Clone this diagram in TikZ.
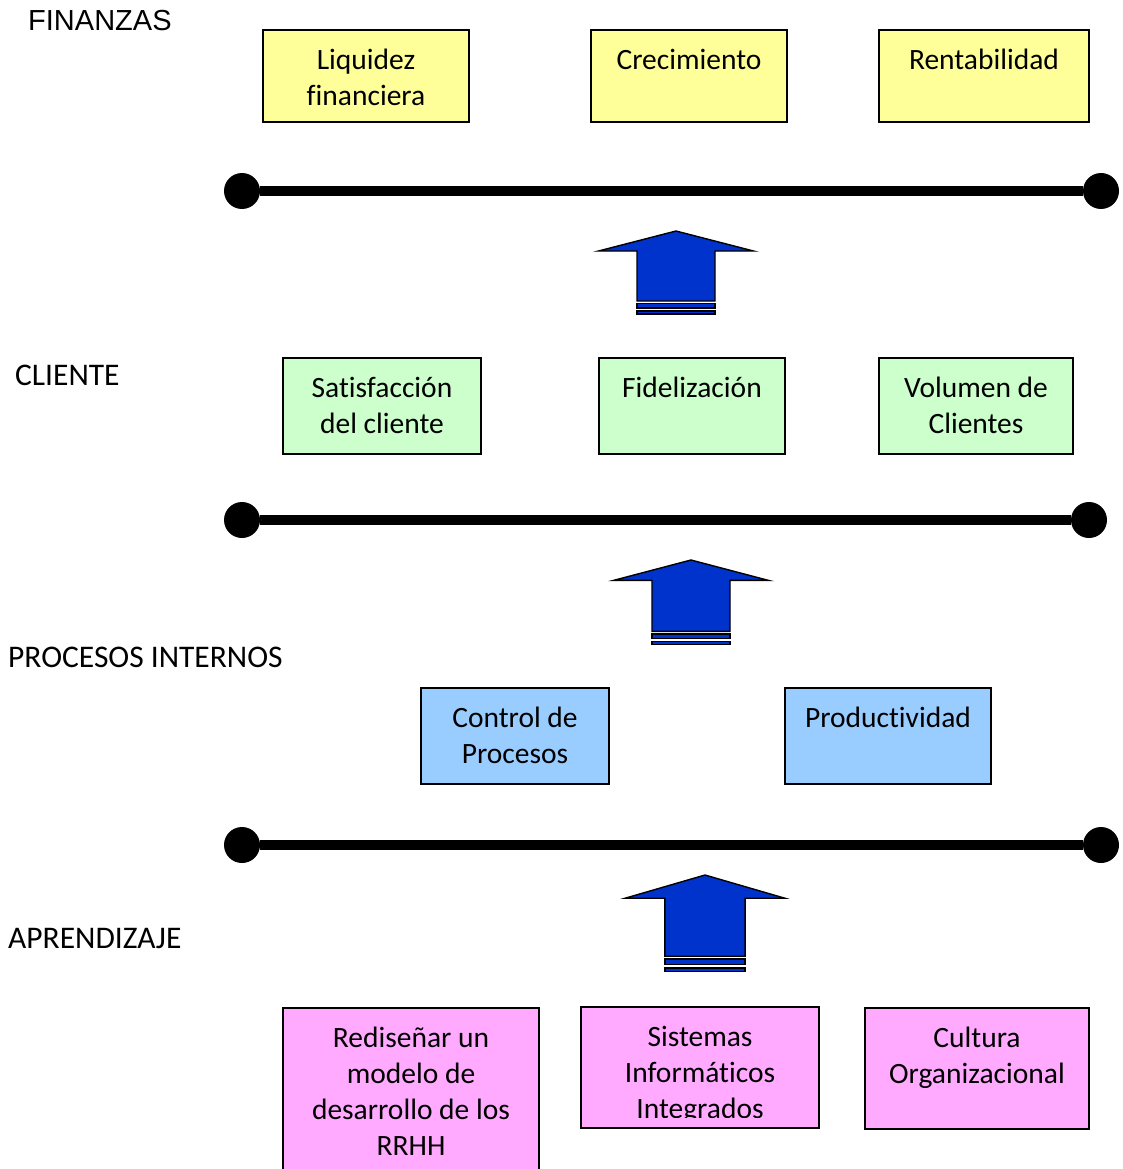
\documentclass[tikz,border=0pt]{standalone}
\usepackage{fontspec}
\setmainfont{Carlito}[Ligatures=NoCommon]
\newfontfamily\headfont{Liberation Sans}
\definecolor{finyellow}{RGB}{255,255,153}
\definecolor{cligreen}{RGB}{204,255,204}
\definecolor{procblue}{RGB}{153,204,255}
\definecolor{learnpink}{RGB}{255,170,255}
\definecolor{arrowblue}{RGB}{0,51,204}
% multi-line box caption whose baseline is that of its first line
\newcommand{\kpilines}[1]{\begin{tabular}[t]{@{}c@{}}#1\end{tabular}}
\begin{document}
\begin{tikzpicture}[x=1pt,y=-1pt,
  kpi/.style={draw=black, line width=1.3pt, inner sep=0pt},
  yel/.style={kpi, fill=finyellow, minimum height=92pt},
  grn/.style={kpi, fill=cligreen, minimum height=96pt},
  blu/.style={kpi, fill=procblue, minimum height=96pt},
  pnk/.style={kpi, fill=learnpink, minimum height=121pt},
  kpitext/.style={anchor=base, inner sep=0pt, font=\fontsize{29.5}{36}\selectfont},
  layer/.style={anchor=base west, inner sep=0pt, font=\fontsize{31.5}{37}\selectfont},
  dot/.style={circle, fill=black, minimum size=36pt, inner sep=0pt},
  bar/.style={line width=10pt},
  arrowline/.style={draw=black, line width=1.4pt, line join=miter, fill=arrowblue},
  uparrow/.pic={
    \path[arrowline] (0,0) -- (77.5,20) -- (39,20) -- (39,70) -- (-39,70)
      -- (-39,20) -- (-77.5,20) -- cycle;
    \path[arrowline] (-39,72.5) rectangle (39,77);
    \path[arrowline] (-39,80) rectangle (39,83);
  }]
\useasboundingbox (0,0) rectangle (1123,1169);
\clip (0,0) rectangle (1123,1169);

% perspective names
\node[layer, font={\headfont\fontsize{29}{34}\selectfont}] (lfin) at (28,31) {FINANZAS};
\node[layer] (lcli) at (15,385) {CLIENTE};
\node[layer] (lpro) at (8,667) {PROCESOS INTERNOS};
\node[layer] (lapr) at (8,948) {APRENDIZAJE};

% finance objectives
\node[yel, minimum width=206pt] (liq) at (366,76) {};
\node[yel, minimum width=196pt] (cre) at (689,76) {};
\node[yel, minimum width=210pt] (ren) at (984,76) {};
\node[kpitext] at ([yshift=-40pt]liq.north) {\kpilines{Liquidez\\financiera}};
\node[kpitext] at ([yshift=-40pt]cre.north) {\kpilines{Crecimiento}};
\node[kpitext] at ([yshift=-40pt]ren.north) {\kpilines{Rentabilidad}};

% customer objectives
\node[grn, minimum width=198pt] (sat) at (382,406) {};
\node[grn, minimum width=186pt] (fid) at (692,406) {};
\node[grn, minimum width=194pt] (vol) at (976,406) {};
\node[kpitext] at ([yshift=-40pt]sat.north) {\kpilines{Satisfacción\\del cliente}};
\node[kpitext] at ([yshift=-40pt]fid.north) {\kpilines{Fidelización}};
\node[kpitext] at ([yshift=-40pt]vol.north) {\kpilines{Volumen de\\Clientes}};

% internal process objectives
\node[blu, minimum width=188pt] (ctl) at (515,736) {};
\node[blu, minimum width=206pt] (prd) at (888,736) {};
\node[kpitext] at ([yshift=-40pt]ctl.north) {\kpilines{Control de\\Procesos}};
\node[kpitext] at ([yshift=-40pt]prd.north) {\kpilines{Productividad}};

% learning objectives
\node[pnk, minimum width=256pt, minimum height=190pt] (red) at (411,1103) {};
\node[pnk, minimum width=238pt] (sis) at (700,1067.5) {};
\node[pnk, minimum width=224pt] (cul) at (977,1068.5) {};
\node[kpitext] at ([yshift=-40pt]red.north) {\kpilines{Rediseñar un\\modelo de\\desarrollo de los\\RRHH}};
\begin{scope}
  \clip (581,1008) rectangle (819,1117);
  \node[kpitext] at ([yshift=-40pt]sis.north) {\kpilines{Sistemas\\Informáticos\\Integrados}};
\end{scope}
\node[kpitext] at ([yshift=-40pt]cul.north) {\kpilines{Cultura\\Organizacional}};

% separating bars
\node[dot] (b1l) at (242,191) {};
\node[dot] (b1r) at (1101,191) {};
\node[dot] (b2l) at (242,520) {};
\node[dot] (b2r) at (1089,520) {};
\node[dot] (b3l) at (242,845) {};
\node[dot] (b3r) at (1101,845) {};
\draw[bar] (b1l) -- (b1r);
\draw[bar] (b2l) -- (b2r);
\draw[bar] (b3l) -- (b3r);

% upward block arrows
\pic at (676,231) {uparrow};
\pic[yscale=1.02] at (691,560) {uparrow};
\pic[xscale=1.03, yscale=1.16] at (705,875) {uparrow};
\end{tikzpicture}
\end{document}
